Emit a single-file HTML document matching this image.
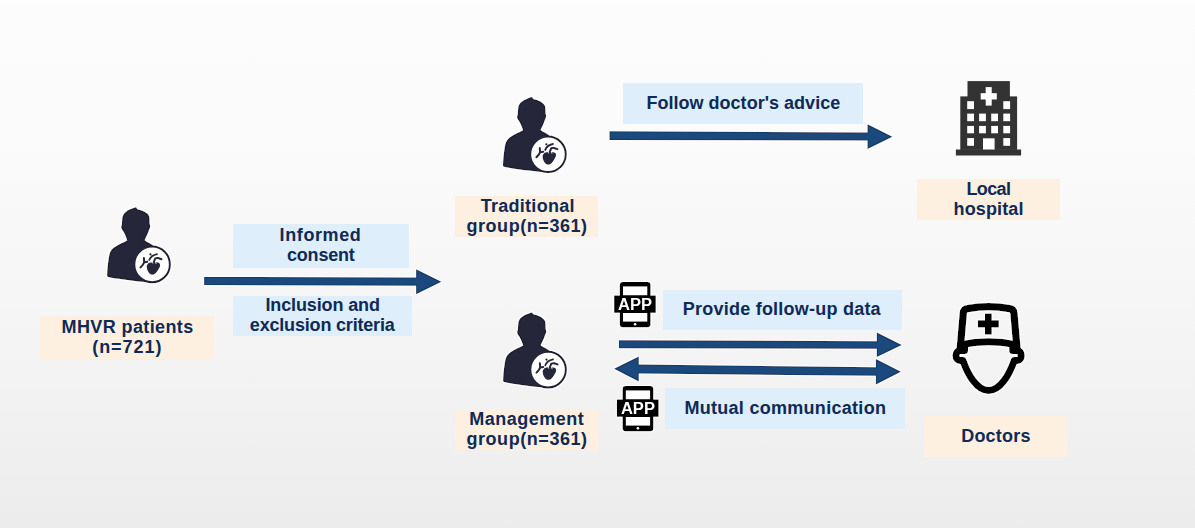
<!DOCTYPE html>
<html><head><meta charset="utf-8"><style>
*{margin:0;padding:0;box-sizing:border-box}
html,body{width:1195px;height:528px;overflow:hidden}
body{position:relative;background:linear-gradient(to bottom,#fefefe 0px,#fcfcfc 6px,#fbfbfb 132px,#f7f7f7 264px,#f2f2f2 396px,#ececec 528px);font-family:"Liberation Sans",sans-serif}
.bx{position:absolute}
.pe{background:#fef0e0}
.bl{background:#deeefa}
.t{position:absolute;white-space:nowrap;font-weight:bold;font-size:18px;line-height:20px;color:#0e2a56}
svg{position:absolute;left:0;top:0}
</style></head><body>
<div class="bx pe" style="left:40px;top:316px;width:174px;height:44px"></div>
<div class="bx bl" style="left:233px;top:224px;width:176px;height:44px"></div>
<div class="bx bl" style="left:233px;top:296px;width:179px;height:40px"></div>
<div class="bx pe" style="left:455px;top:196px;width:143px;height:41px"></div>
<div class="bx bl" style="left:623px;top:83px;width:240px;height:41px"></div>
<div class="bx pe" style="left:917px;top:179px;width:143px;height:41px"></div>
<div class="bx pe" style="left:455px;top:410px;width:143px;height:40px"></div>
<div class="bx bl" style="left:663px;top:290px;width:239px;height:40px"></div>
<div class="bx bl" style="left:665px;top:388px;width:240px;height:41px"></div>
<div class="bx pe" style="left:924px;top:416px;width:143px;height:41px"></div>

<div class="t" id="t1" style="left:61.60px;top:316.8px;letter-spacing:0.384px">MHVR patients</div>
<div class="t" id="t2" style="left:92.20px;top:337.3px;letter-spacing:0.966px">(n=721)</div>
<div class="t" id="t3" style="left:279.60px;top:224.7px;letter-spacing:0.600px">Informed</div>
<div class="t" id="t4" style="left:287.00px;top:245.4px;letter-spacing:-0.200px">consent</div>
<div class="t" id="t5" style="left:265.40px;top:294.7px;letter-spacing:-0.126px">Inclusion and</div>
<div class="t" id="t6" style="left:249.80px;top:315.2px;letter-spacing:-0.182px">exclusion criteria</div>
<div class="t" id="t7" style="left:480.80px;top:195.7px;letter-spacing:0.260px">Traditional</div>
<div class="t" id="t8" style="left:466.40px;top:215.5px;letter-spacing:0.563px">group(n=361)</div>
<div class="t" id="t9" style="left:646.40px;top:92.5px;letter-spacing:0.024px">Follow doctor's advice</div>
<div class="t" id="t10" style="left:966.40px;top:178.8px;letter-spacing:-0.625px">Local</div>
<div class="t" id="t11" style="left:953.60px;top:198.9px;letter-spacing:0.129px">hospital</div>
<div class="t" id="t12" style="left:469.20px;top:409.3px;letter-spacing:0.499px">Management</div>
<div class="t" id="t13" style="left:466.40px;top:429.4px;letter-spacing:0.563px">group(n=361)</div>
<div class="t" id="t14" style="left:682.80px;top:298.7px;letter-spacing:0.229px">Provide follow-up data</div>
<div class="t" id="t15" style="left:684.40px;top:397.7px;letter-spacing:0.290px">Mutual communication</div>
<div class="t" id="t16" style="left:961.20px;top:425.9px;letter-spacing:0.201px">Doctors</div>

<svg width="1195" height="528" viewBox="0 0 1195 528">
<defs>
<filter id="halo" x="-10%" y="-10%" width="120%" height="120%">
<feMorphology in="SourceAlpha" operator="dilate" radius="1" result="d"/>
<feFlood flood-color="#fff" flood-opacity="0.95"/>
<feComposite in2="d" operator="in" result="w"/>
<feMorphology in="SourceAlpha" operator="erode" radius="0.8" result="e"/>
<feComposite in="SourceAlpha" in2="e" operator="out" result="ring"/>
<feFlood flood-color="#000" flood-opacity="0.35"/>
<feComposite in2="ring" operator="in" result="dr"/>
<feMerge><feMergeNode in="w"/><feMergeNode in="SourceGraphic"/><feMergeNode in="dr"/></feMerge>
</filter>
<g id="person">
<path fill="#28273a" d="M-16,-57.2C-15.5,-56.2 -15,-55.5 -14.4,-55C-11,-54.5 -7.5,-53 -5.3,-51.1C-3.5,-49.5 -2.8,-48.5 -2.7,-46.5L-2.5,-40.7C-1.8,-39.5 -1.8,-37 -2.3,-36.5C-2.6,-35.5 -2.8,-35 -3,-34.8C-4,-31.5 -5.2,-28.5 -7.3,-25L-7.2,-24C-5,-22.5 -2,-21 1,-19L0,0L-6.6,17.7C-11,17.2 -15,16.8 -19,16.3C-24,15.6 -29,15 -33.2,14.4C-38,13.7 -41,13.2 -44.1,12.5C-44.8,12.2 -45.1,11.5 -45,10.6C-44.8,6 -44.5,2 -44.1,-0.7C-43.6,-4.5 -43.2,-7.5 -42.6,-10.2C-42,-12.5 -41,-14.2 -39.8,-15.4C-37.5,-17.5 -34.5,-19.3 -32,-20.5C-29.5,-21.7 -26.5,-23 -24.9,-24C-25.5,-26.5 -27.5,-31 -29.1,-33.6C-30,-34.5 -31,-36 -30.9,-37.5C-30.8,-38.5 -30.4,-39 -30.3,-39.5L-29.8,-46.5C-29.2,-49.5 -28,-51 -26.8,-52C-25,-53.5 -23,-54.8 -21.2,-55.4C-19.5,-56 -17.5,-56.8 -16,-57.2Z"/>
<circle cx="0" cy="0" r="17.8" fill="#fff" stroke="#28273a" stroke-width="2"/>
<path fill="#28273a" d="M-3.64,-1.23C-4.8,0 -5.5,1 -5.34,2.18C-5.3,3.8 -5,5 -4.49,6.15C-3.5,8.2 -2,9.9 -0.8,10.13C0.3,10.3 1.2,10.2 2.05,9.85C4,8.8 5.6,6.6 6.59,4.45C7.3,3.2 7.9,2.2 8.01,1.04C8.1,-0.2 7.7,-1 6.88,-1.52C6.3,-1.9 5.6,-2.1 4.89,-2.08C2.5,-2.3 -1.5,-2.5 -3.64,-1.23Z"/>
<g fill="none" stroke="#28273a" stroke-width="2" stroke-linecap="round" stroke-linejoin="round">
<path d="M-11.6,3L-9.3,0.5L-7.9,-2.1L-8.2,-6.3"/>
<path d="M-7.9,-2.1L-4.8,-2.6"/>
<path stroke-width="1.8" d="M-2.8,-4.4Q-1.2,-9 4.9,-10.3"/>
<path d="M1.5,-1.8L3.2,-6Q5,-6.6 6,-6.35L9.4,-5.2"/>
</g>
<circle cx="-1.65" cy="-10" r="1.1" fill="#28273a"/>
<g fill="none" stroke="#fff" stroke-width="0.8" stroke-linecap="round">
<path d="M-0.3,-3.2L0.6,-1.2"/>
<path d="M3.4,-2.6L3.9,-0.9"/>
</g>
</g>
<g id="app">
<rect x="0" y="0" width="30.7" height="45.3" rx="3" fill="#000"/>
<rect x="3.2" y="4.4" width="24.3" height="9.1" fill="#fff"/>
<rect x="3.2" y="31" width="24.3" height="8.6" fill="#fff"/>
<rect x="-5.7" y="13.5" width="41.7" height="17.3" fill="#000"/>
<circle cx="15.3" cy="42.2" r="1.3" fill="#fff"/>
<text x="15.3" y="28" text-anchor="middle" fill="#fff" font-family="Liberation Sans" font-weight="bold" font-size="16" textLength="34" lengthAdjust="spacingAndGlyphs">APP</text>
</g>
</defs>
<use href="#person" transform="translate(152.1,264.4)" filter="url(#halo)"/>
<use href="#person" transform="translate(548,154.3)" filter="url(#halo)"/>
<use href="#person" transform="translate(548.1,369.6)" filter="url(#halo)"/>

<g fill="#1f497d" filter="url(#halo)">
<polygon points="204.1,276.9 416.1,277.6 416.1,269.2 441.4,281.7 416.1,294.2 416.1,285.8 204.1,285.1"/>
<polygon points="609.5,131.2 867.5,132.5 867.5,124.2 892.4,136.7 867.5,149.1 867.5,140.6 609.5,139.9"/>
<polygon points="618.9,340.3 876.8,341.2 876.8,332.4 901.8,345 876.8,357.1 876.8,348.8 618.9,348.2"/>
<polygon points="614,368.8 638.8,356.4 638.8,364.6 875.9,367.3 875.9,359.1 900.9,371.8 875.9,384.4 875.9,375.8 638.8,373.6 638.8,381.4"/>
</g>

<use href="#app" transform="translate(619.8,282)" filter="url(#halo)"/>
<use href="#app" transform="translate(622.6,386)" filter="url(#halo)"/>

<!-- hospital -->
<g fill="#333">
<rect x="967.5" y="81.1" width="42.4" height="16"/>
<rect x="960.3" y="96.4" width="56.8" height="53.5"/>
<rect x="955.9" y="149.5" width="65.2" height="6"/>
</g>
<g fill="#fff">
<rect x="985.7" y="87.1" width="6" height="18.5"/>
<rect x="980.7" y="93.2" width="16.1" height="6.3"/>
<rect x="967.2" y="101.2" width="6.8" height="7.9"/>
<rect x="1003.3" y="101.2" width="6.8" height="7.9"/>
<rect x="967.2" y="113.6" width="6.8" height="7.6"/>
<rect x="979.1" y="113.6" width="6.8" height="7.6"/>
<rect x="991.2" y="113.6" width="6.8" height="7.6"/>
<rect x="1003.3" y="113.6" width="6.8" height="7.6"/>
<rect x="967.2" y="125.9" width="6.8" height="7.4"/>
<rect x="979.1" y="125.9" width="6.8" height="7.4"/>
<rect x="991.2" y="125.9" width="6.8" height="7.4"/>
<rect x="1003.3" y="125.9" width="6.8" height="7.4"/>
<rect x="967.2" y="138.1" width="6.8" height="7.7"/>
<rect x="1003.3" y="138.1" width="6.8" height="7.7"/>
<rect x="983" y="138.3" width="11.6" height="11.2"/>
</g>

<g filter="url(#halo)">
<!-- doctor -->
<g fill="none" stroke="#000" stroke-linejoin="round" stroke-linecap="butt">
<path stroke-width="7.3" d="M960,351L963.3,313Q963.8,309 967.5,308.6Q988.6,304.6 1009.7,308.6Q1013.4,309 1013.9,313L1017.2,351"/>
<path stroke-width="7" d="M960.4,344.8Q988.6,338.7 1016.8,344.8"/>
<path stroke-width="7" d="M964.5,345L964.5,350.5L960,350.5A3.8,4.8 0 0 0 960,360.6L963,360.6C968,375 977,390.5 988.6,390.5C1000.2,390.5 1009.2,375 1014.2,360.6L1017.2,360.6A3.8,4.8 0 0 0 1017.2,350.5L1012.7,350.5L1012.7,345"/>
</g>
<g fill="#000">
<rect x="985" y="313.6" width="6.7" height="20.9"/>
<rect x="977.9" y="320.3" width="20.9" height="7.1"/>
</g>
</g>
</svg>
</body></html>
